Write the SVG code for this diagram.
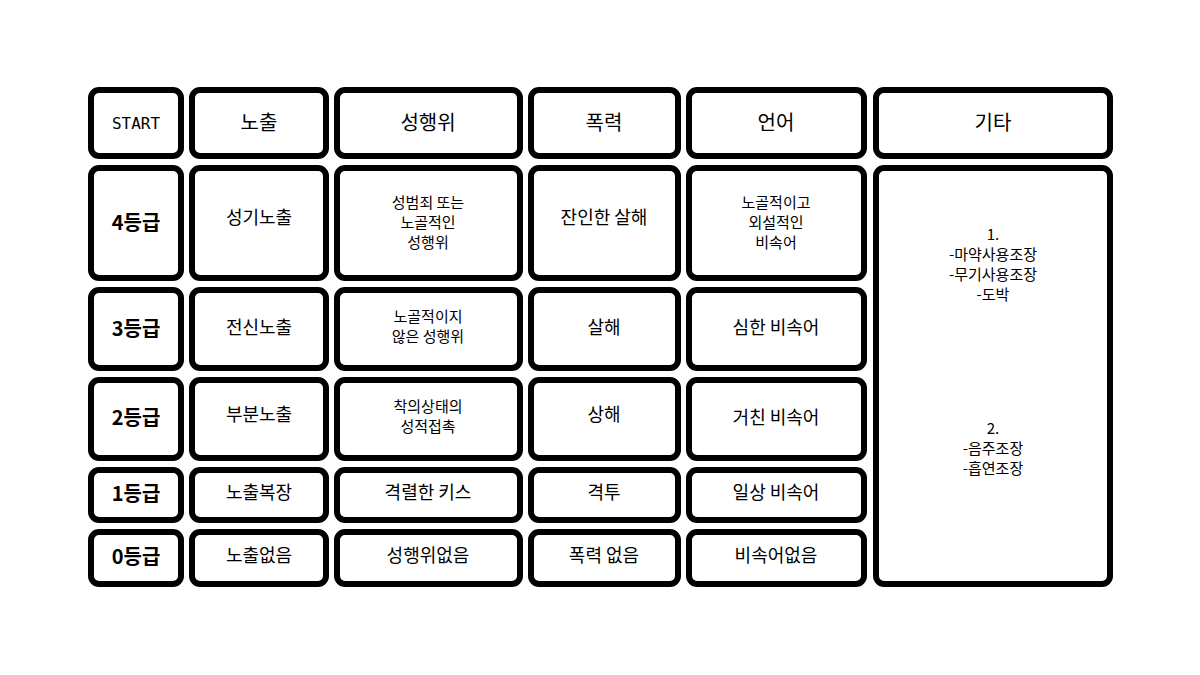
<svg xmlns="http://www.w3.org/2000/svg" width="1200" height="675" viewBox="0 0 1200 675">
<style>
rect.c{fill:#fff;stroke:#000;stroke-width:6}
text{font-family:"Noto Sans CJK KR","Noto Sans",sans-serif;font-size:20px;text-anchor:middle;fill:#000}
.s{font-size:16px;font-family:"DejaVu Sans Mono",monospace}
.m{font-size:18px}
.e{font-size:15px}
.b{font-weight:bold}
</style>
<rect width="1200" height="675" fill="#fff"/>
<g id="hdr">
<g id="n-start"><rect class="c" x="91" y="90" width="90" height="66" rx="8"/><text class="s" x="136" y="129">START</text></g>
<g id="n-h1"><rect class="c" x="192" y="90" width="134" height="66" rx="8"/><text x="259" y="130">노출</text></g>
<g id="n-h2"><rect class="c" x="337" y="90" width="183" height="66" rx="8"/><text x="428" y="130">성행위</text></g>
<g id="n-h3"><rect class="c" x="531" y="90" width="147" height="66" rx="8"/><text x="604" y="130">폭력</text></g>
<g id="n-h4"><rect class="c" x="689" y="90" width="175" height="66" rx="8"/><text x="776" y="130">언어</text></g>
<g id="n-h5"><rect class="c" x="876" y="90" width="234" height="66" rx="8"/><text x="993" y="130">기타</text></g>
</g>
<g id="r4">
<rect class="c" x="91" y="168" width="90" height="110" rx="8"/><text class="b" x="136" y="230">4등급</text>
<rect class="c" x="192" y="168" width="134" height="110" rx="8"/><text class="m" x="259" y="224">성기노출</text>
<rect class="c" x="337" y="168" width="183" height="110" rx="8"/><text class="e" x="428" y="208">성범죄 또는</text><text class="e" x="428" y="228">노골적인</text><text class="e" x="428" y="248">성행위</text>
<rect class="c" x="531" y="168" width="147" height="110" rx="8"/><text class="m" x="604" y="224">잔인한 살해</text>
<rect class="c" x="689" y="168" width="175" height="110" rx="8"/><text class="e" x="776" y="208">노골적이고</text><text class="e" x="776" y="228">외설적인</text><text class="e" x="776" y="248">비속어</text>
</g>
<g id="r3">
<rect class="c" x="91" y="290" width="90" height="78" rx="8"/><text class="b" x="136" y="336">3등급</text>
<rect class="c" x="192" y="290" width="134" height="78" rx="8"/><text class="m" x="259" y="334">전신노출</text>
<rect class="c" x="337" y="290" width="183" height="78" rx="8"/><text class="e" x="428" y="322">노골적이지</text><text class="e" x="428" y="342">않은 성행위</text>
<rect class="c" x="531" y="290" width="147" height="78" rx="8"/><text class="m" x="604" y="334">살해</text>
<rect class="c" x="689" y="290" width="175" height="78" rx="8"/><text class="m" x="776" y="334">심한 비속어</text>
</g>
<g id="r2">
<rect class="c" x="91" y="380" width="90" height="78" rx="8"/><text class="b" x="136" y="425">2등급</text>
<rect class="c" x="192" y="380" width="134" height="78" rx="8"/><text class="m" x="259" y="421">부분노출</text>
<rect class="c" x="337" y="380" width="183" height="78" rx="8"/><text class="e" x="428" y="412">착의상태의</text><text class="e" x="428" y="432">성적접촉</text>
<rect class="c" x="531" y="380" width="147" height="78" rx="8"/><text class="m" x="604" y="421">상해</text>
<rect class="c" x="689" y="380" width="175" height="78" rx="8"/><text class="m" x="776" y="424">거친 비속어</text>
</g>
<g id="r1">
<rect class="c" x="91" y="470" width="90" height="50" rx="8"/><text class="b" x="136" y="501">1등급</text>
<rect class="c" x="192" y="470" width="134" height="50" rx="8"/><text class="m" x="259" y="499">노출복장</text>
<rect class="c" x="337" y="470" width="183" height="50" rx="8"/><text class="m" x="428" y="499">격렬한 키스</text>
<rect class="c" x="531" y="470" width="147" height="50" rx="8"/><text class="m" x="604" y="499">격투</text>
<rect class="c" x="689" y="470" width="175" height="50" rx="8"/><text class="m" x="776" y="499">일상 비속어</text>
</g>
<g id="r0">
<rect class="c" x="91" y="532" width="90" height="52" rx="8"/><text class="b" x="136" y="564">0등급</text>
<rect class="c" x="192" y="532" width="134" height="52" rx="8"/><text class="m" x="259" y="562">노출없음</text>
<rect class="c" x="337" y="532" width="183" height="52" rx="8"/><text class="m" x="428" y="562">성행위없음</text>
<rect class="c" x="531" y="532" width="147" height="52" rx="8"/><text class="m" x="604" y="562">폭력 없음</text>
<rect class="c" x="689" y="532" width="175" height="52" rx="8"/><text class="m" x="776" y="562">비속어없음</text>
</g>
<g id="n-etc">
<rect class="c" x="876" y="168" width="234" height="416" rx="8"/>
<text class="e" x="993" y="240">1.</text><text class="e" x="993" y="260">-마약사용조장</text><text class="e" x="993" y="280">-무기사용조장</text><text class="e" x="993" y="300">-도박</text>
<text class="e" x="993" y="434">2.</text><text class="e" x="993" y="454">-음주조장</text><text class="e" x="993" y="474">-흡연조장</text>
</g>
<g id="connectors"/>
</svg>
